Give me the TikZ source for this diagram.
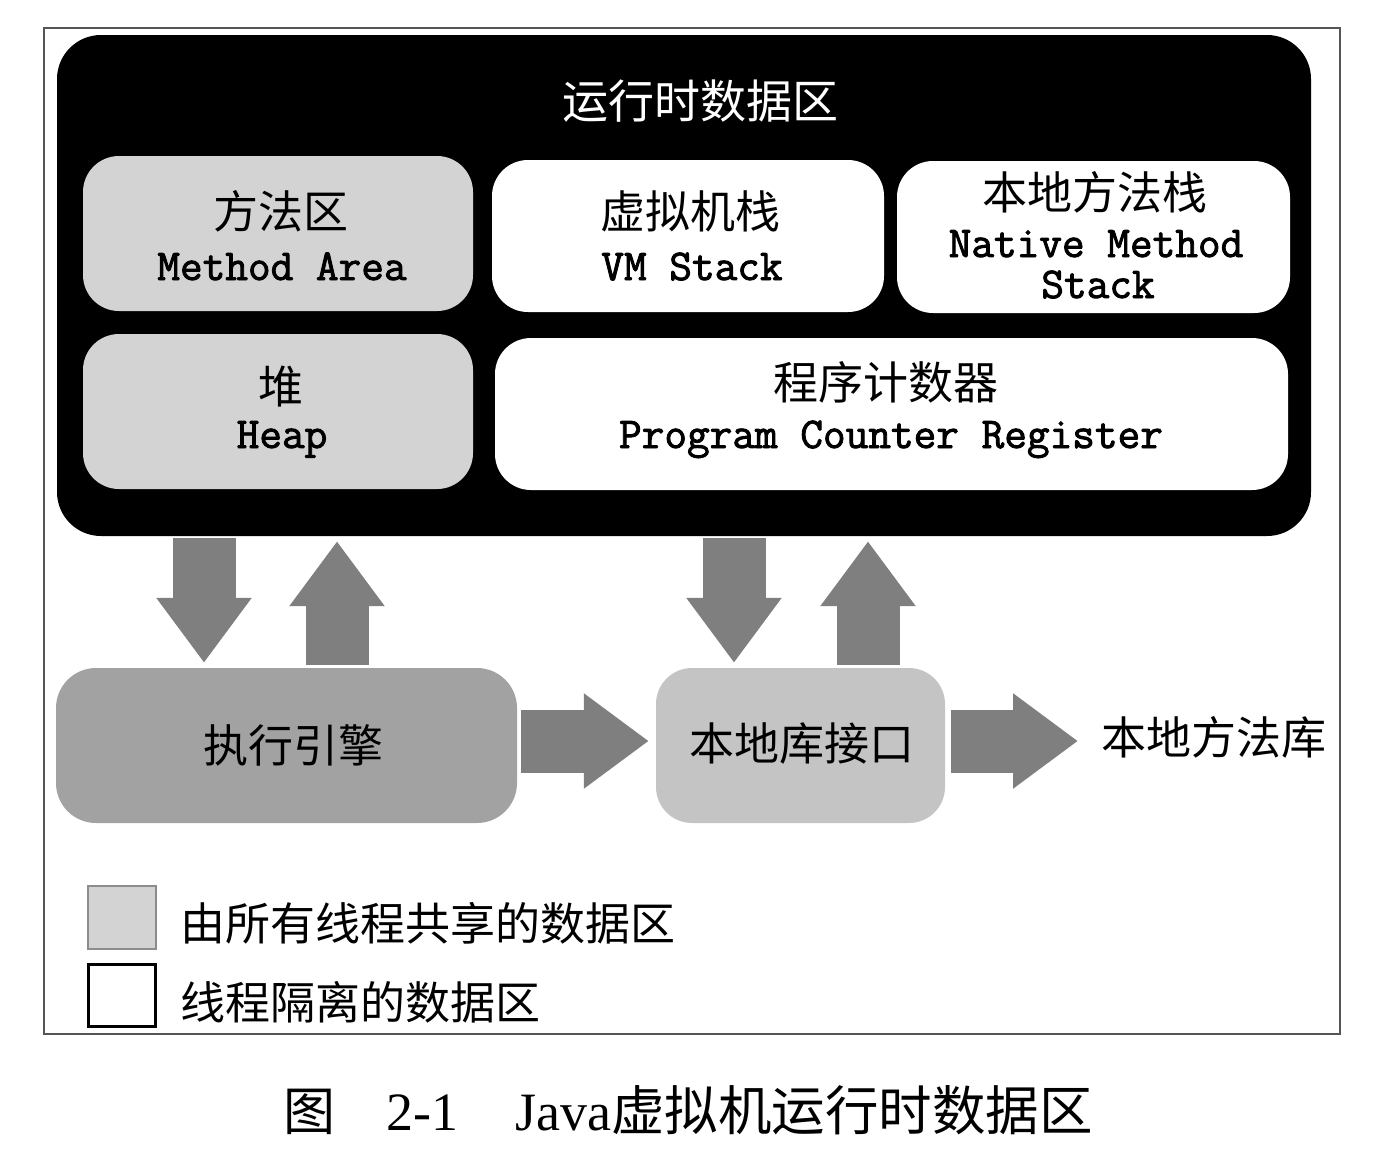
\documentclass[tikz,border=0pt]{standalone}
\usepackage{fontspec}
\usetikzlibrary{arrows.meta}
\newfontfamily\cjk{Noto Sans CJK SC}
\newfontfamily\monob{Latin Modern Mono}[FakeBold=2]
\newfontfamily\capserif{Liberation Serif}
\definecolor{arrowgray}{HTML}{7F7F7F}
\definecolor{sharedgray}{HTML}{D3D3D3}
\definecolor{enginegray}{HTML}{A2A2A2}
\definecolor{nativegray}{HTML}{C4C4C4}
\definecolor{framegray}{HTML}{555555}
\tikzset{
  frame/.style={draw=framegray, line width=2pt},
  rtbox/.style={fill=black, rounded corners=44pt, inner sep=0pt},
  area/.style={rounded corners=36pt, inner sep=0pt},
  shared/.style={area, fill=sharedgray},
  private/.style={area, fill=white},
  engine/.style={area, rounded corners=40pt, fill=enginegray},
  nativeif/.style={area, rounded corners=36pt, fill=nativegray},
  cjkt/.style={font=\cjk\fontsize{45}{50}\selectfont, inner sep=0pt, text=black},
  titlet/.style={font=\cjk\fontsize{46}{50}\selectfont, inner sep=0pt, text=white},
  monot/.style={font=\monob\fontsize{44}{48}\selectfont, inner sep=0pt, anchor=base, text=black},
  blockarrow/.style={draw=arrowgray, line width=63pt,
    -{Triangle[length=65pt 0 0, width=91pt 0 0, fill=arrowgray]}},
}
\begin{document}
\begin{tikzpicture}[x=1pt,y=-1pt]
\useasboundingbox (0,0) rectangle (1378,1160);
% outer frame
\node[frame, minimum width=1296pt, minimum height=1006pt, inner sep=0pt] (frm) at (692,531) {};
% runtime data area
\node[rtbox, minimum width=1254pt, minimum height=501pt] (rt) at (684,285.5) {};
\node[titlet] (rttitle) at (700,101) {运行时数据区};
% inner areas
\node[shared, minimum width=390pt, minimum height=155pt] (ma) at (278,233.5) {};
\node[private, minimum width=392pt, minimum height=152pt] (vm) at (688,236) {};
\node[private, minimum width=393pt, minimum height=152pt] (nm) at (1093.5,237) {};
\node[shared, minimum width=390pt, minimum height=155pt] (hp) at (278,411.5) {};
\node[private, minimum width=793pt, minimum height=152pt] (pc) at (891.5,414) {};
% texts
\node[cjkt] (ma1) at (281,211) {方法区};
\node[monot] (ma2) at (282,280) {Method Area};
\node[cjkt] (vm1) at (690,211) {虚拟机栈};
\node[monot] (vm2) at (692,280) {VM Stack};
\node[cjkt] (nm1) at (1095,192) {本地方法栈};
\node[monot] (nm2) at (1096,257) {Native Method};
\node[monot] (nm3) at (1098,298) {Stack};
\node[cjkt] (hp1) at (281,387) {堆};
\node[monot] (hp2) at (282,448) {Heap};
\node[cjkt] (pc1) at (886,382) {程序计数器};
\node[monot] (pc2) at (891,448) {Program Counter Register};
% engine & native interface
\node[engine, minimum width=461pt, minimum height=155pt] (ee) at (286.5,745.5) {};
\node[cjkt] (eet) at (293,745) {执行引擎};
\node[nativeif, minimum width=289pt, minimum height=155pt] (ni) at (800.5,745.5) {};
\node[cjkt] (nit) at (802,743) {本地库接口};
\node[cjkt] (lib) at (1214,737) {本地方法库};
% arrow columns
\coordinate (col1) at (204,0);
\coordinate (col2) at (337,0);
\coordinate (col3) at (734,0);
\coordinate (col4) at (868,0);
\draw[blockarrow, shorten <=2pt, shorten >=5pt] (rt.south -| col1) -- (ee.north -| col1);
\draw[blockarrow, shorten <=3pt, shorten >=5pt] (ee.north -| col2) -- (rt.south -| col2);
\draw[blockarrow, shorten <=2pt, shorten >=5pt] (rt.south -| col3) -- (ni.north -| col3);
\draw[blockarrow, shorten <=3pt, shorten >=5pt] (ni.north -| col4) -- (rt.south -| col4);
\coordinate (row) at (0,741);
\coordinate (libw) at (1086,741);
\draw[blockarrow, shorten <=4pt, shorten >=7pt] (ee.east |- row) -- (ni.west |- row);
\draw[blockarrow, shorten <=6pt, shorten >=8pt] (ni.east |- row) -- (libw);
% legend
\node[draw=black!45, line width=1.5pt, fill=sharedgray, minimum width=68pt, minimum height=63pt, inner sep=0pt] (lgs) at (122,917.5) {};
\node[cjkt, anchor=west] (lgst) at (180,923) {由所有线程共享的数据区};
\node[draw=black, line width=3pt, fill=white, minimum width=67pt, minimum height=62pt, inner sep=0pt] (lgp) at (122,995.5) {};
\node[cjkt, anchor=west] (lgpt) at (180,1002) {线程隔离的数据区};
% caption
\node[anchor=base west, inner sep=0pt, font=\capserif\fontsize{54}{60}\selectfont] (cap) at (283,1130)
  {\makebox[103pt][l]{\cjk\fontsize{52}{60}\selectfont 图}\makebox[129pt][l]{2-1}Java{\cjk\fontsize{53.5}{60}\selectfont 虚拟机运行时数据区}};
\end{tikzpicture}
\end{document}
